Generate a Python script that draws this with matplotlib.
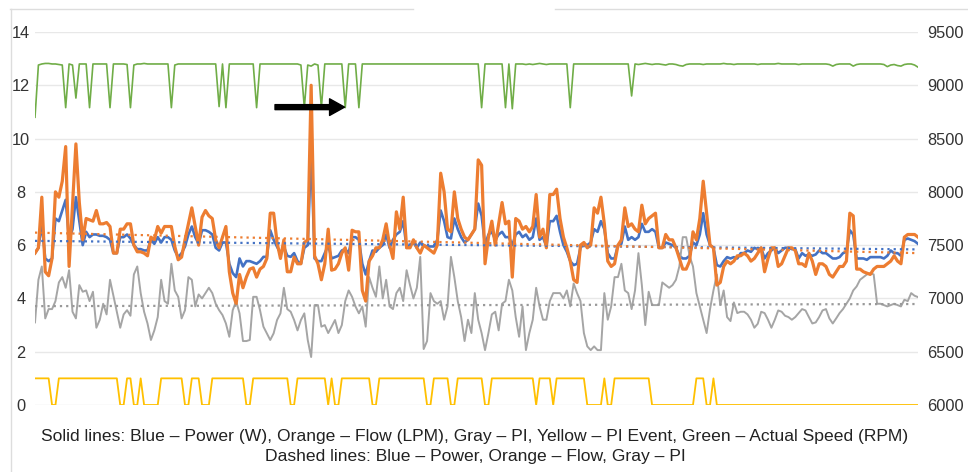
import matplotlib
matplotlib.use("Agg")
import matplotlib.pyplot as plt
from matplotlib.lines import Line2D

# values, one per sample (260 samples)
power = [
    5.7, 5.9, 6.8, 5.5, 5.4, 5.5, 7.0, 6.9, 7.3, 7.7,
    6.2, 6.6, 7.8, 6.9, 6.0, 6.5, 6.3, 6.4, 6.4, 6.35,
    6.35, 6.3, 6.2, 5.7, 5.7, 6.3, 6.3, 6.4, 6.25, 6.0,
    5.85, 5.85, 5.8, 5.8, 6.2, 6.05, 6.3, 6.1, 6.3, 6.3,
    6.2, 5.8, 5.55, 5.7, 5.95, 6.4, 6.7, 6.3, 6.05, 6.56,
    6.56, 6.5, 6.4, 5.9, 5.8, 6.1, 6.1, 5.3, 4.95, 4.8,
    5.5, 5.2, 5.4, 5.4, 5.35, 5.3, 5.4, 5.56, 5.56, 6.56,
    6.2, 5.94, 5.7, 5.94, 5.6, 5.56, 5.7, 5.4, 5.3, 5.9,
    6.0, 9.6, 5.5, 5.4, 5.4, 5.7, 6.0, 5.5, 5.55, 5.6,
    5.8, 5.85, 5.7, 6.3, 6.3, 6.2, 5.3, 4.9, 5.4, 5.8,
    5.75, 5.9, 6.0, 6.4, 5.9, 6.2, 6.4, 6.5, 6.9, 5.9,
    6.0, 6.1, 5.9, 6.1, 6.0, 5.95, 5.95, 5.95, 6.2, 7.3,
    6.9, 6.3, 6.25, 7.0, 6.6, 6.3, 6.1, 6.2, 6.4, 6.6,
    7.56, 7.1, 6.0, 6.4, 6.5, 6.2, 6.4, 6.5, 6.3, 6.3,
    6.0, 6.4, 6.5, 6.3, 6.4, 6.2, 6.3, 7.0, 6.2, 6.3,
    5.95, 6.9, 6.9, 7.1, 6.5, 6.0, 5.75, 5.4, 5.25, 5.3,
    5.9, 6.05, 6.0, 6.1, 6.6, 6.5, 6.9, 6.6, 5.7, 5.5,
    5.5, 6.0, 6.05, 6.7, 6.2, 6.3, 6.2, 6.3, 6.8, 6.5,
    6.5, 6.6, 6.5, 5.9, 5.9, 6.1, 6.05, 6.0, 5.9, 5.6,
    5.5, 5.5, 5.6, 6.1, 6.0, 6.4, 7.2, 6.4, 6.0, 5.9,
    5.25, 5.2, 5.4, 5.55, 5.5, 5.55, 5.5, 5.7, 5.7, 5.8,
    5.75, 5.9, 5.85, 5.9, 5.5, 5.7, 5.8, 5.9, 5.7, 5.8,
    5.9, 5.9, 5.85, 5.85, 5.5, 5.7, 5.6, 5.65, 5.6, 5.65,
    5.8, 5.7, 5.7, 5.6, 5.5, 5.5, 5.55, 5.7, 5.75, 6.56,
    6.4, 5.5, 5.5, 5.5, 5.45, 5.55, 5.55, 5.55, 5.55, 5.5,
    5.6, 5.8, 5.7, 5.7, 5.6, 6.2, 6.25, 6.2, 6.15, 6.05,
]

flow = [
    5.7, 5.9, 7.8, 5.0, 4.85, 5.5, 8.0, 7.8, 8.4, 9.7,
    5.2, 7.5, 9.8, 7.6, 6.2, 7.0, 6.95, 6.9, 7.3, 6.8,
    6.8, 6.85, 6.7, 5.7, 5.7, 6.6, 6.6, 6.8, 6.8, 6.0,
    5.75, 5.75, 5.7, 5.6, 6.3, 6.2, 6.7, 6.45, 6.7, 6.7,
    6.7, 5.95, 5.45, 5.55, 6.2, 6.8, 7.4, 6.7, 6.0, 7.05,
    7.3, 7.1, 7.0, 6.2, 5.9, 6.3, 6.7, 5.0, 4.2, 3.8,
    4.9, 4.4, 4.8, 5.1, 5.15, 4.8, 5.1, 5.2, 5.5, 7.2,
    7.2, 6.1, 5.5, 6.2, 5.0, 5.0, 5.55, 5.3, 5.3, 6.1,
    6.2, 12.0, 5.6, 5.3, 4.7, 5.3, 6.6, 5.06, 5.1, 5.3,
    5.7, 5.9, 5.06, 6.56, 6.5, 6.5, 4.3, 3.9, 5.4, 5.6,
    5.9, 5.9, 6.2, 6.8, 6.0, 5.5, 7.25, 6.6, 7.8, 5.9,
    5.9, 6.2, 5.9, 5.7, 6.0, 5.9, 5.8, 5.7, 6.0, 8.7,
    8.0, 6.6, 6.5, 8.0, 7.0, 6.6, 6.3, 6.2, 6.4, 6.6,
    9.2, 9.0, 5.3, 6.3, 6.9, 6.0, 6.8, 7.6, 6.8, 6.9,
    4.8, 7.0, 6.9, 6.6, 6.7, 6.5, 6.7, 7.9, 6.3, 6.6,
    5.9, 7.9, 7.9, 8.1, 7.0, 6.3, 5.9, 5.4, 4.7, 4.6,
    6.0, 6.1, 5.9, 6.0, 7.4, 7.2, 7.8, 6.8, 5.4, 5.2,
    5.3, 6.0, 6.2, 7.4, 6.7, 6.8, 6.6, 6.5, 7.5, 6.8,
    7.0, 7.1, 7.2, 5.9, 5.9, 6.4, 6.2, 6.2, 5.9, 5.5,
    5.1, 5.1, 5.4, 6.5, 6.2, 7.0, 8.4, 7.2, 6.0, 5.9,
    4.5, 4.6, 5.2, 5.4, 5.3, 5.4, 5.6, 5.6, 5.7, 5.6,
    5.4, 5.5, 5.7, 5.9, 5.0, 5.5, 5.9, 5.9, 5.2, 5.3,
    5.6, 5.9, 5.9, 5.8, 5.3, 5.3, 5.2, 5.7, 5.4, 4.9,
    5.3, 5.3, 5.2, 4.9, 4.8, 5.0, 5.2, 5.2, 5.4, 7.2,
    7.1, 5.1, 5.1, 5.0, 4.95, 4.9, 5.1, 5.2, 5.2, 5.2,
    5.3, 5.4, 5.6, 5.4, 5.3, 6.3, 6.4, 6.4, 6.4, 6.3,
]

pi = [
    3.1, 4.7, 5.2, 3.25, 3.6, 3.6, 3.9, 4.6, 4.8, 4.4,
    5.06, 3.5, 3.25, 4.5, 4.25, 4.3, 3.9, 4.25, 2.9, 3.2,
    3.8, 3.4, 4.7, 4.1, 3.5, 2.9, 3.4, 3.56, 3.35, 4.9,
    5.2, 4.2, 3.5, 3.06, 2.44, 2.8, 3.3, 4.7, 3.9, 3.8,
    5.3, 4.3, 4.06, 3.25, 3.56, 4.8, 4.7, 3.7, 4.15, 4.0,
    4.2, 4.4, 4.2, 3.8, 3.56, 3.375, 3.06, 2.56, 3.56, 3.9,
    3.44, 2.4, 2.4, 2.44, 4.06, 4.06, 3.56, 2.94, 2.69, 2.44,
    2.69, 3.19, 3.44, 4.4, 3.6, 3.5, 3.19, 2.8, 3.19, 3.44,
    2.44, 1.8, 3.75, 3.75, 2.94, 3.0, 2.7, 2.94, 3.19, 2.7,
    3.0, 3.9, 4.3, 4.06, 3.7, 3.44, 3.7, 2.94, 4.8, 4.4,
    4.06, 5.2, 4.0, 4.7, 3.7, 3.6, 4.2, 4.4, 3.9, 5.06,
    4.5, 4.0, 4.4, 5.56, 2.1, 2.4, 4.2, 3.9, 3.8, 3.9,
    3.2, 3.7, 5.56, 4.8, 3.9, 3.3, 2.4, 3.2, 2.7, 4.2,
    3.2, 2.7, 2.06, 2.7, 3.4, 3.5, 2.8, 3.8, 3.9, 4.7,
    4.3, 3.3, 2.56, 3.7, 2.06, 2.7, 3.2, 4.4, 3.7, 3.2,
    3.2, 3.9, 4.2, 4.2, 4.2, 4.0, 4.3, 3.7, 4.56, 4.2,
    3.9, 2.7, 2.2, 2.06, 2.2, 2.06, 2.06, 4.2, 3.2, 3.7,
    4.8, 4.8, 5.3, 4.3, 4.2, 3.6, 4.3, 5.7, 4.5, 3.0,
    4.25, 3.75, 3.75, 3.75, 4.6, 4.5, 4.4, 4.5, 4.7, 5.2,
    6.3, 6.3, 5.6, 5.2, 4.2, 3.7, 3.2, 2.7, 3.6, 4.3,
    4.9, 3.75, 4.3, 3.3, 3.15, 3.85, 3.45, 3.5, 3.5, 3.4,
    3.2, 2.9, 3.05, 3.5, 3.45, 3.2, 2.9, 3.2, 3.55, 3.5,
    3.35, 3.3, 3.2, 3.3, 3.45, 3.6, 3.55, 3.3, 3.06, 3.1,
    3.3, 3.55, 3.6, 3.25, 3.06, 3.25, 3.45, 3.6, 3.8, 4.0,
    4.3, 4.45, 4.7, 4.8, 4.9, 4.95, 4.9, 3.8, 3.8, 3.75,
    3.7, 3.75, 3.8, 3.75, 3.7, 3.95, 3.9, 4.2, 4.1, 4.05,
]

pi_event = [
    1, 1, 1, 1, 1, 0, 0, 1, 1, 1,
    1, 1, 1, 1, 1, 1, 1, 1, 1, 1,
    1, 1, 1, 1, 1, 0, 0, 1, 1, 0,
    0, 1, 0, 0, 0, 0, 0, 1, 1, 1,
    1, 1, 1, 1, 0, 0, 1, 1, 1, 0,
    0, 0, 1, 1, 1, 1, 1, 1, 1, 1,
    1, 1, 0, 0, 1, 1, 1, 1, 1, 1,
    1, 1, 1, 1, 1, 0, 0, 1, 1, 1,
    1, 1, 1, 1, 1, 1, 0, 1, 0, 0,
    1, 1, 1, 1, 1, 1, 1, 1, 1, 0,
    0, 1, 1, 1, 1, 1, 1, 1, 1, 1,
    1, 1, 1, 1, 1, 0, 0, 1, 1, 1,
    1, 1, 0, 0, 1, 1, 1, 1, 1, 1,
    1, 1, 0, 0, 1, 1, 1, 1, 1, 1,
    1, 1, 1, 1, 1, 1, 1, 0, 1, 1,
    1, 1, 0, 1, 1, 1, 1, 1, 1, 1,
    1, 1, 0, 0, 0, 0, 0, 1, 0, 0,
    1, 1, 1, 1, 1, 1, 1, 1, 1, 1,
    1, 0, 0, 0, 0, 0, 0, 0, 0, 0,
    0, 0, 0, 0, 1, 1, 1, 0, 0, 1,
    0, 0, 0, 0, 0, 0, 0, 0, 0, 0,
    0, 0, 0, 0, 0, 0, 0, 0, 0, 0,
    0, 0, 0, 0, 0, 0, 0, 0, 0, 0,
    0, 0, 0, 0, 0, 0, 0, 0, 0, 0,
    0, 0, 0, 0, 0, 0, 0, 0, 0, 0,
    0, 0, 0, 0, 0, 0, 0, 0, 0, 0,
]

speed = [
    8700, 9190, 9200, 9205, 9205, 9200, 9200, 9195, 9190, 8790,
    9200, 9190, 8880, 9200, 9200, 9200, 8790, 9200, 9200, 9200,
    9200, 9200, 8790, 9200, 9200, 9200, 9200, 9195, 8790, 9190,
    9200, 9200, 9205, 9200, 9200, 9200, 9200, 9200, 9200, 9200,
    8790, 9190, 9200, 9200, 9200, 9200, 9200, 9200, 9200, 9200,
    9200, 9200, 9200, 9200, 8800, 9200, 8790, 9200, 9200, 9200,
    9200, 9200, 9200, 9200, 9200, 8790, 9200, 9200, 9200, 9200,
    9200, 9200, 9200, 9200, 9200, 9200, 9200, 9200, 9190, 8790,
    9190, 9180, 9200, 9190, 8790, 9200, 9200, 9200, 9200, 9200,
    9200, 8790, 9200, 9200, 9200, 8790, 9200, 9200, 9200, 9200,
    9200, 9200, 9200, 9200, 9200, 9200, 9200, 9200, 9200, 9200,
    9200, 9200, 9200, 9200, 9200, 9200, 9200, 9200, 9200, 9200,
    9200, 9200, 9200, 9200, 9200, 9200, 9200, 9200, 9200, 9200,
    9200, 8790, 9200, 9200, 9200, 9200, 9200, 9200, 8790, 9200,
    8780, 9200, 9200, 9200, 9195, 9200, 9195, 9200, 9205, 9200,
    9195, 9200, 9200, 9200, 9200, 9200, 9200, 8790, 9200, 9200,
    9200, 9200, 9200, 9200, 9200, 9200, 9200, 9200, 9200, 9200,
    9200, 9200, 9200, 9200, 9200, 8900, 9200, 9195, 9200, 9205,
    9200, 9195, 9200, 9200, 9195, 9190, 9200, 9200, 9195, 9185,
    9180, 9195, 9200, 9200, 9200, 9200, 9195, 9200, 9200, 9200,
    9200, 9200, 9205, 9200, 9200, 9195, 9200, 9200, 9200, 9200,
    9200, 9200, 9195, 9200, 9200, 9200, 9200, 9200, 9205, 9200,
    9200, 9200, 9200, 9200, 9195, 9200, 9200, 9200, 9200, 9200,
    9200, 9200, 9200, 9195, 9180, 9195, 9200, 9200, 9200, 9200,
    9180, 9195, 9200, 9200, 9200, 9200, 9200, 9200, 9200, 9195,
    9175, 9190, 9195, 9185, 9180, 9195, 9200, 9200, 9190, 9170,
]

# dotted trend lines: value at first and last sample
trend_x = [0, 259]
power_trend = [6.16, 5.84]
flow_trend = [6.47, 5.70]
pi_trend = [3.71, 3.79]

left_ticks = [0, 2, 4, 6, 8, 10, 12, 14]
right_ticks = [6000, 6500, 7000, 7500, 8000, 8500, 9000, 9500]

caption_1 = ("Solid lines: Blue \u2013 Power (W), Orange \u2013 Flow (LPM), Gray \u2013 PI, "
             "Yellow \u2013 PI Event, Green \u2013 Actual Speed (RPM)")
caption_2 = "Dashed lines: Blue \u2013 Power, Orange \u2013 Flow, Gray \u2013 PI"

BLUE = "#4472C4"
ORANGE = "#ED7D31"
GRAY = "#A5A5A5"
YELLOW = "#FFC000"
GREEN = "#70AD47"

plt.rcParams['font.family'] = ['Liberation Sans', 'DejaVu Sans']

fig = plt.figure(figsize=(9.68, 4.72), dpi=100)
ax = fig.add_axes([35 / 968, 67 / 472, 883 / 968, 373 / 472])
ax2 = ax.twinx()

dots = (0, (1.0, 1.8))
ax.plot(trend_x, power_trend, color=BLUE, lw=1.6, ls=dots, zorder=6)
ax.plot(trend_x, flow_trend, color=ORANGE, lw=1.6, ls=dots, zorder=6)
ax.plot(trend_x, pi_trend, color="#999999", lw=1.6, ls=dots, zorder=6)

ax.plot(range(len(power)), power, color=BLUE, lw=1.9, zorder=3)
ax.plot(range(len(flow)), flow, color=ORANGE, lw=2.3, zorder=4)
ax.plot(range(len(pi)), pi, color=GRAY, lw=1.4, zorder=3)
ax.plot(range(len(pi_event)), pi_event, color=YELLOW, lw=1.3, zorder=3)
ax2.plot(range(len(speed)), speed, color=GREEN, lw=1.2, zorder=3)

ax.set_xlim(0, len(power) - 1)
ax.set_ylim(0, 14)
ax2.set_ylim(6000, 9500)
ax.set_yticks(left_ticks)
ax2.set_yticks(right_ticks)
ax.set_xticks([])
ax.grid(axis='y', color="#e8e8e8", lw=1.0)
ax.set_axisbelow(True)

for a in (ax, ax2):
    for s in a.spines.values():
        s.set_visible(False)
ax.tick_params(axis='y', length=0, pad=10, labelsize=11.8, labelcolor="#333333")
for lab in ax.get_yticklabels():
    lab.set_horizontalalignment('center')
ax2.tick_params(axis='y', length=0, pad=6.5, labelsize=11.8, labelcolor="#333333")

# black arrow pointing at a speed dip
ax2.annotate('', xy=(90.8, 8795), xytext=(70.4, 8795),
             arrowprops=dict(arrowstyle='simple,head_length=0.9,head_width=1.0,tail_width=0.3',
                             mutation_scale=12, color='black', shrinkA=0, shrinkB=0),
             zorder=10)

fig.text(475 / 968, 1 - 437 / 472, caption_1, ha='center', va='center', fontsize=12.6, color="#222222")
fig.text(475 / 968, 1 - 456 / 472, caption_2, ha='center', va='center', fontsize=12.6, color="#222222")

# faint frame from the original screenshot
frame = "#dddddd"
fig.add_artist(Line2D([10 / 968, 413 / 968], [1 - 9 / 472, 1 - 9 / 472], color=frame, lw=1))
fig.add_artist(Line2D([555 / 968, 1], [1 - 9 / 472, 1 - 9 / 472], color=frame, lw=1))
fig.add_artist(Line2D([11 / 968, 11 / 968], [0, 1 - 9 / 472], color=frame, lw=1))

fig.savefig("out.png", dpi=100)
